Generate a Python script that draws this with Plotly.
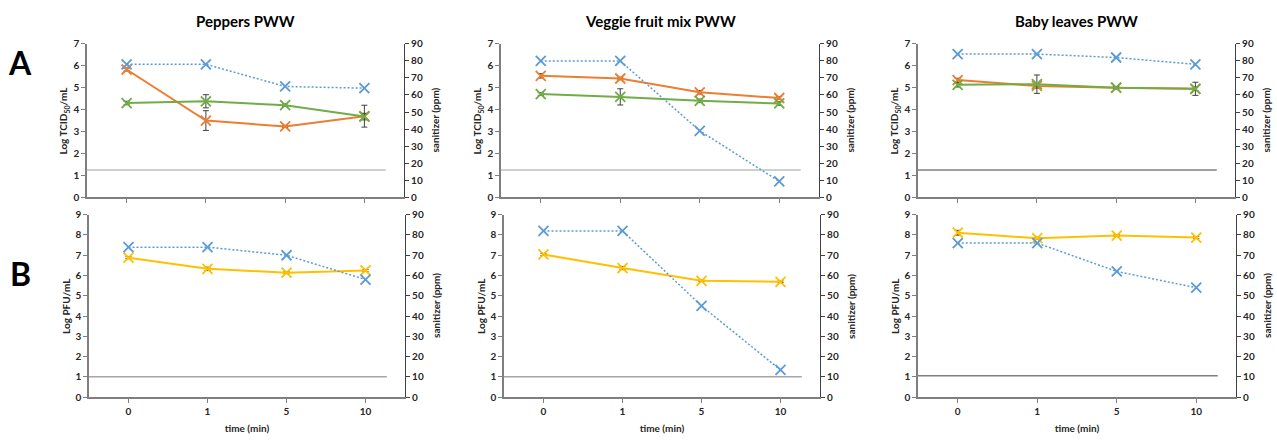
import plotly.graph_objects as go

# ---- data ----------------------------------------------------------------
times = ["0", "1", "5", "10"]
panels = ["Peppers PWW", "Veggie fruit mix PWW", "Baby leaves PWW"]

# Row A: infectivity (Log TCID50/mL) for two viruses + sanitizer (ppm)
tcid_orange = [
    [5.83, 3.50, 3.23, 3.70],
    [5.54, 5.42, 4.79, 4.53],
    [5.35, 5.08, 5.00, 4.95],
]
tcid_orange_err = [
    [0.07, 0.45, 0.05, 0.50],
    [0.10, 0.06, 0.08, 0.06],
    [0.08, 0.10, 0.05, 0.08],
]
tcid_green = [
    [4.30, 4.38, 4.20, 3.68],
    [4.71, 4.58, 4.40, 4.28],
    [5.13, 5.16, 5.00, 4.95],
]
tcid_green_err = [
    [0.08, 0.30, 0.06, 0.15],
    [0.06, 0.37, 0.08, 0.08],
    [0.10, 0.42, 0.05, 0.30],
]
sanitizer_a = [
    [78, 78, 65, 64],
    [80, 80, 39, 9.3],
    [84, 84, 82, 78],
]
lod_a = [1.24, 1.24, 1.24]

# Row B: infectivity (Log PFU/mL) + sanitizer (ppm)
pfu_yellow = [
    [6.88, 6.33, 6.14, 6.25],
    [7.04, 6.37, 5.74, 5.69],
    [8.11, 7.84, 7.97, 7.87],
]
pfu_yellow_err = [
    [0.05, 0.08, 0.05, 0.05],
    [0.05, 0.08, 0.04, 0.04],
    [0.12, 0.05, 0.05, 0.05],
]
sanitizer_b = [
    [74, 74, 70, 58],
    [82, 82, 45, 13.4],
    [76, 76, 62, 54],
]
lod_b = [1.0, 1.0, 1.05]

# ---- styling -------------------------------------------------------------
BLUE = "#5B9BD5"
ORANGE = "#ED7D31"
GREEN = "#70AD47"
YELLOW = "#FFC000"
AXIS = "#7F7F7F"
TEXT = "#262626"
FONT = "Lato"
W, H = 1277, 441

# pixel extents of each plotting area (left, right) and rows (top, bottom)
x_px_a = [(87, 404), (501, 819), (918, 1235)]
x_px_b = [(89, 405), (504, 820), (918, 1236)]
y_px_a = (38, 196)
y_px_b = (214, 402)
lod_colors_a = ["#BFBFBF", "#BFBFBF", "#7F7F7F"]
lod_colors_b = ["#A6A6A6", "#A6A6A6", "#7F7F7F"]

fig = go.Figure()
layout = dict(
    width=W, height=H, margin=dict(l=0, r=0, t=0, b=0),
    paper_bgcolor="white", plot_bgcolor="white", showlegend=False,
    font=dict(family=FONT, size=10, color=TEXT),
)
shapes, annotations = [], []


def xdom(px):
    return [px[0] / W, px[1] / W]


def ydom(px):
    return [1 - px[1] / H, 1 - px[0] / H]


def xtrace(color, dash, width):
    return dict(mode="lines+markers",
                line=dict(color=color, width=width, dash=dash),
                marker=dict(symbol="x-thin", size=10,
                            line=dict(color=color, width=1.8)))


def err(vals):
    return dict(type="data", array=vals, visible=True, color="#404040",
                thickness=1, width=3)


def add_panel(idx, xpx, ypx, ymax, left_title, series, sanit, lod, lod_color,
              show_x_labels):
    xa = f"x{idx}" if idx > 1 else "x"
    ya = f"y{2 * idx - 1}" if idx > 1 else "y"
    yb = f"y{2 * idx}"
    xkey = "xaxis" + (str(idx) if idx > 1 else "")
    ykey = "yaxis" + (str(2 * idx - 1) if idx > 1 else "")
    y2key = "yaxis" + str(2 * idx)

    xaxis = dict(
        domain=xdom(xpx), anchor=ya, type="category",
        categoryorder="array", categoryarray=times, range=[-0.5, 3.5],
        showline=True, linecolor=AXIS, linewidth=1.5, ticks="outside",
        ticklen=4, tickcolor=AXIS, showgrid=False, zeroline=False,
        showticklabels=show_x_labels,
        tickfont=dict(family=FONT, size=10, color=TEXT, weight="bold"),
    )
    if show_x_labels:
        xaxis["title"] = dict(
            text="time (min)", standoff=9,
            font=dict(family=FONT, size=10, color=TEXT, weight="bold"))
    layout[xkey] = xaxis
    layout[ykey] = dict(
        domain=ydom(ypx), anchor=xa, range=[0, ymax], dtick=1,
        showline=True, linecolor=AXIS, linewidth=1.5, ticks="outside",
        ticklen=4, tickcolor=AXIS, showgrid=False, zeroline=False,
        tickfont=dict(family=FONT, size=10, color=TEXT, weight="bold"),
    )
    layout[y2key] = dict(
        overlaying=ya, anchor=xa, side="right", range=[0, 90], dtick=10,
        showline=True, linecolor="#404040", linewidth=1.2, ticks="outside",
        ticklen=4, tickcolor="#404040", showgrid=False, zeroline=False,
        tickfont=dict(family=FONT, size=10, color=TEXT, weight="bold"),
    )

    # limit of detection line
    shapes.append(dict(type="line", xref=xa, yref=ya, x0=-0.5, x1=3.27,
                       y0=lod, y1=lod, line=dict(color=lod_color, width=1.5),
                       layer="below"))

    # sanitizer concentration (right axis)
    fig.add_trace(go.Scatter(x=times, y=sanit, xaxis=xa, yaxis=yb,
                             **xtrace(BLUE, "2px,2px", 1.5)))
    # virus series (left axis)
    for vals, errs, color in series:
        fig.add_trace(go.Scatter(x=times, y=vals, error_y=err(errs),
                                 xaxis=xa, yaxis=ya, **xtrace(color, "solid", 2)))

    # axis titles
    annotations.append(dict(
        text=left_title, xref="paper", yref="paper",
        x=(xpx[0] - 23) / W, y=1 - (ypx[0] + ypx[1]) / 2 / H,
        showarrow=False, textangle=-90, xanchor="center", yanchor="middle",
        font=dict(family=FONT, size=10, color=TEXT, weight="bold")))
    annotations.append(dict(
        text="sanitizer (ppm)", xref="paper", yref="paper",
        x=(xpx[1] + 31) / W, y=1 - (ypx[0] + ypx[1]) / 2 / H,
        showarrow=False, textangle=-90, xanchor="center", yanchor="middle",
        font=dict(family=FONT, size=10, color=TEXT, weight="bold")))


for i in range(3):
    add_panel(i + 1, x_px_a[i], y_px_a, 7, "Log TCID<sub>50</sub>/mL",
              [(tcid_orange[i], tcid_orange_err[i], ORANGE),
               (tcid_green[i], tcid_green_err[i], GREEN)],
              sanitizer_a[i], lod_a[i], lod_colors_a[i], False)
    add_panel(i + 4, x_px_b[i], y_px_b, 9, "Log PFU/mL",
              [(pfu_yellow[i], pfu_yellow_err[i], YELLOW)],
              sanitizer_b[i], lod_b[i], lod_colors_b[i], True)
    # column titles
    annotations.append(dict(
        text=panels[i], xref="paper", yref="paper",
        x=(x_px_a[i][0] + x_px_a[i][1]) / 2 / W, y=1 - 14 / H,
        showarrow=False, xanchor="center", yanchor="middle",
        font=dict(family=FONT, size=15, color="#000000", weight="bold")))

# row letters
for letter, ypix in (("A", 57), ("B", 275)):
    annotations.append(dict(
        text=letter, xref="paper", yref="paper", x=20 / W, y=1 - ypix / H,
        showarrow=False, xanchor="center", yanchor="middle",
        font=dict(family=FONT, size=32, color="#000000", weight="bold")))

layout["shapes"] = shapes
layout["annotations"] = annotations
fig.update_layout(**layout)
fig.write_html("out.html")
